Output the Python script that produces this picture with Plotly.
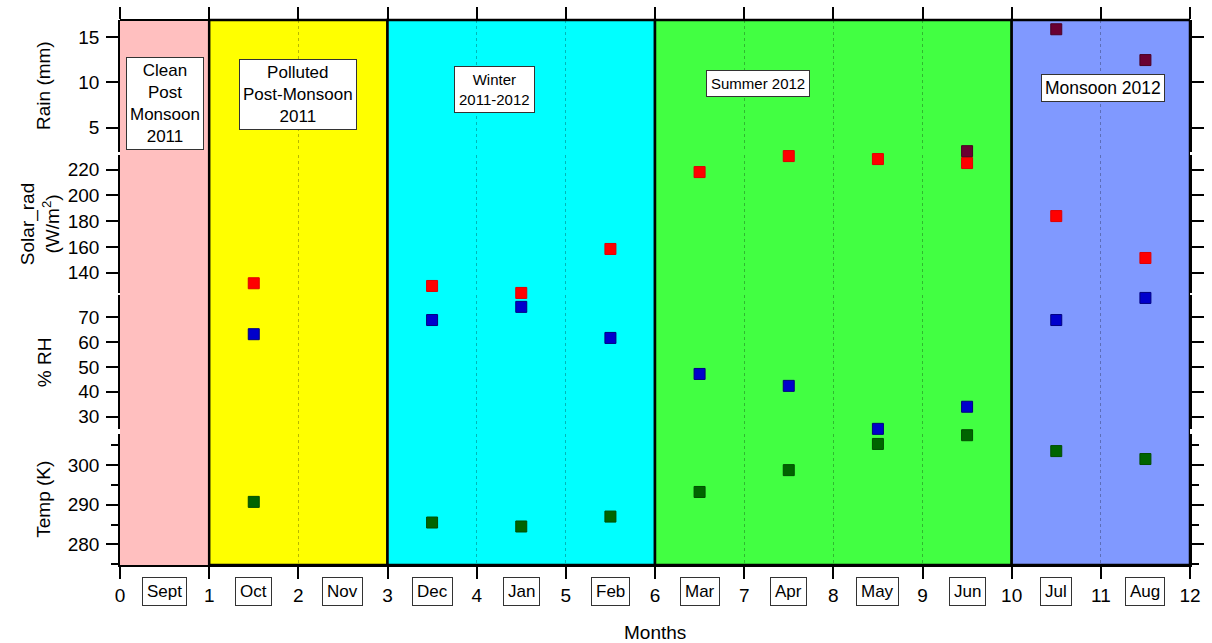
import plotly.graph_objects as go

# ---------------- data ----------------
month_pos = [1.5, 3.5, 4.5, 5.5, 6.5, 7.5, 8.5, 9.5, 10.5, 11.5]
solar_rad = [131.8, 129.7, 124.3, 158.4, 218.0, 230.4, 228.1, 225.0, 183.9, 151.4]
rel_hum = [63.2, 68.9, 74.2, 61.7, 47.2, 42.4, 25.1, 34.0, 68.9, 77.8]
temp_k = [290.7, 285.5, 284.5, 287.0, 293.2, 298.7, 305.3, 307.5, 303.5, 301.5]
rain_pos = [9.5, 10.5, 11.5]
rain_mm = [2.4, 15.85, 12.45]

month_names = ["Sept", "Oct", "Nov", "Dec", "Jan", "Feb", "Mar", "Apr", "May", "Jun", "Jul", "Aug"]
month_label_pos = [0.5, 1.5, 2.5, 3.5, 4.5, 5.5, 6.5, 7.5, 8.5, 9.5, 10.5, 11.5]
x_ticks = [0, 1, 2, 3, 4, 5, 6, 7, 8, 9, 10, 11, 12]

season_start = [0, 1, 3, 6, 10]
season_end = [1, 3, 6, 10, 12]
season_names = ["Clean<br>Post<br>Monsoon<br>2011", "Polluted<br>Post-Monsoon<br>2011",
                "Winter<br>2011-2012", "Summer 2012", "Monsoon 2012"]
season_label_x = [0.5, 2.0, 4.2, 7.15, 11.02]

axis_titles = ["Temp (K)", "% RH", "Solar_rad<br>(W/m<sup>2</sup>)", "Rain (mm)"]

# ---------------- styles ----------------
season_colors = ["#FFBFBF", "#FFFF00", "#00FFFF", "#42FF42", "#8099FF"]
season_border = [0, 2.5, 2.5, 2.5, 2.5]
season_label_y = [0.846, 0.864, 0.873, 0.883, 0.875]
season_font = [17, 17, 15, 15, 17.5]
season_pad = [3, 3, 4, 4, 3]
FONT = "Arial, Liberation Sans, sans-serif"

# plot area pixels: left 120, right 1190, top 20, bottom 565
dom_temp = [0, 0.2396]
dom_rh = [0.2489, 0.4955]
dom_solar = [0.4985, 0.7517]
dom_rain = [0.758, 1]
axis_title_y = [sum(dom_temp) / 2, sum(dom_rh) / 2, sum(dom_solar) / 2, sum(dom_rain) / 2]
axis_title_x = [-0.071, -0.071, -0.074, -0.071]

fig = go.Figure()

fig.add_trace(go.Scatter(x=month_pos, y=temp_k, mode="markers", xaxis="x", yaxis="y",
                         marker=dict(symbol="square", size=11, color="#006400",
                                     line=dict(color="#004d00", width=1)),
                         cliponaxis=False, showlegend=False))
fig.add_trace(go.Scatter(x=month_pos, y=rel_hum, mode="markers", xaxis="x", yaxis="y2",
                         marker=dict(symbol="square", size=11, color="#0000CC",
                                     line=dict(color="#000080", width=1)),
                         cliponaxis=False, showlegend=False))
fig.add_trace(go.Scatter(x=month_pos, y=solar_rad, mode="markers", xaxis="x", yaxis="y3",
                         marker=dict(symbol="square", size=11, color="#FF0000",
                                     line=dict(color="#E00000", width=1)),
                         cliponaxis=False, showlegend=False))
fig.add_trace(go.Scatter(x=rain_pos, y=rain_mm, mode="markers", xaxis="x", yaxis="y4",
                         marker=dict(symbol="square", size=11, color="#6A0032",
                                     line=dict(color="#4a0022", width=1)),
                         cliponaxis=False, showlegend=False))
# empty trace to activate top mirror axis
fig.add_trace(go.Scatter(x=[], y=[], xaxis="x2", yaxis="y4", showlegend=False, hoverinfo="skip"))

shapes = []
for s0, s1, c, bw in zip(season_start, season_end, season_colors, season_border):
    shapes.append(dict(type="rect", xref="x", yref="paper", x0=s0, x1=s1, y0=0, y1=1,
                       fillcolor=c, line=dict(color="black", width=bw), layer="below"))

annotations = []
for name, lx, ly, fs, bp in zip(season_names, season_label_x, season_label_y, season_font, season_pad):
    annotations.append(dict(x=lx, y=ly, xref="x", yref="paper", text=name, showarrow=False,
                            xanchor="center", yanchor="middle",
                            font=dict(family=FONT, size=fs, color="black"),
                            bgcolor="white", bordercolor="#333", borderwidth=1, borderpad=bp))
for name, lx in zip(month_names, month_label_pos):
    annotations.append(dict(x=lx, y=-0.0495, xref="x", yref="paper", text=name, showarrow=False,
                            xanchor="center", yanchor="middle",
                            font=dict(family=FONT, size=17, color="black"),
                            bgcolor="white", bordercolor="#333", borderwidth=1, borderpad=4))
for t, tx, ty in zip(axis_titles, axis_title_x, axis_title_y):
    annotations.append(dict(x=tx, y=ty, xref="paper", yref="paper", text=t, showarrow=False,
                            xanchor="center", yanchor="middle", textangle=-90,
                            font=dict(family=FONT, size=19, color="black")))
annotations.append(dict(x=0.5, y=-0.123, xref="paper", yref="paper", text="Months", showarrow=False,
                        xanchor="center", yanchor="middle",
                        font=dict(family=FONT, size=19, color="black")))

yax_common = dict(anchor="x", showline=True, linecolor="black", linewidth=1.5, mirror="ticks",
                  ticks="outside", ticklen=12, tickwidth=1.5, tickcolor="black",
                  showgrid=False, zeroline=False, automargin=False, ticklabelstandoff=3,
                  tickfont=dict(family=FONT, size=19, color="black"))

fig.update_layout(
    width=1212, height=643,
    margin=dict(l=120, r=22, t=20, b=78),
    paper_bgcolor="white", plot_bgcolor="white",
    shapes=shapes, annotations=annotations,
    xaxis=dict(anchor="y", domain=[0, 1], range=[0, 12], tickvals=x_ticks,
               showline=True, linecolor="black", linewidth=1.5,
               ticks="outside", ticklen=12, tickwidth=1.5, tickcolor="black",
               showgrid=True, gridcolor="rgba(0,0,0,0.28)", griddash="dot", gridwidth=1,
               zeroline=False, ticklabelstandoff=0, automargin=False,
               tickfont=dict(family=FONT, size=19, color="black")),
    xaxis2=dict(overlaying="x", side="top", anchor="free", position=1, range=[0, 12],
                tickvals=x_ticks, showticklabels=False, showline=True, linecolor="black",
                linewidth=1.5, ticks="outside", ticklen=12, tickwidth=1.5, tickcolor="black",
                showgrid=False, zeroline=False, automargin=False),
    yaxis=dict(domain=dom_temp, range=[274.8, 307.7], tickvals=[280, 290, 300],
               minor=dict(tickvals=[275, 285, 295, 305], ticks="outside", ticklen=7,
                          tickwidth=1.5, tickcolor="black", showgrid=False),
               **yax_common),
    yaxis2=dict(domain=dom_rh, range=[24.9, 79.0], tickvals=[30, 40, 50, 60, 70], **yax_common),
    yaxis3=dict(domain=dom_solar, range=[124.0, 231.0], tickvals=[140, 160, 180, 200, 220],
                **yax_common),
    yaxis4=dict(domain=dom_rain, range=[2.32, 16.87], tickvals=[5, 10, 15], **yax_common),
)

fig.write_html("out.html", config={"displayModeBar": False},
               post_script="document.body.style.margin='0';")
